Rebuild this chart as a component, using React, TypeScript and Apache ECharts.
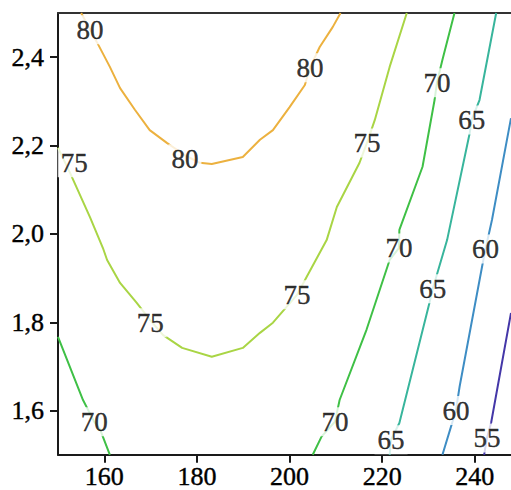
import React, { useEffect, useRef } from "react";
import * as echarts from "echarts";

// Contour polylines: [x, y]
const line80 = [
  [155.0, 2.5], [158.4, 2.434], [161.2, 2.378], [163.4, 2.33], [166.6, 2.281], [169.8, 2.235],
  [173.5, 2.206], [177.4, 2.178], [180.6, 2.161], [183.2, 2.158], [189.9, 2.174], [193.6, 2.213],
  [196.4, 2.235], [200.0, 2.287], [203.3, 2.337], [204.4, 2.376], [206.5, 2.423], [209.3, 2.468], [211.0, 2.5],
];
const line75 = [
  [150.0, 2.195], [152.6, 2.138], [156.9, 2.038], [159.7, 1.968], [160.6, 1.941], [163.4, 1.889],
  [167.0, 1.844], [169.9, 1.805], [172.7, 1.771], [176.8, 1.742], [183.2, 1.722], [189.9, 1.742],
  [193.6, 1.776], [196.4, 1.799], [201.6, 1.862], [203.7, 1.903], [208.0, 1.986], [210.2, 2.061],
  [215.1, 2.161], [216.7, 2.206], [218.4, 2.258], [221.6, 2.378], [225.3, 2.5],
];
const line70a = [
  [150.0, 1.767], [155.4, 1.624], [157.8, 1.575], [159.1, 1.557], [161.2, 1.5],
];
const line70b = [
  [205.0, 1.5], [206.9, 1.541], [209.8, 1.575], [210.8, 1.624], [216.6, 1.783], [221.6, 1.941],
  [223.6, 1.968], [223.7, 2.009], [228.7, 2.152], [231.3, 2.303], [231.8, 2.342], [233.0, 2.394], [235.6, 2.5],
];
const line65 = [
  [221.6, 1.5], [221.9, 1.534], [223.7, 1.572], [230.2, 1.844], [230.9, 1.876], [234.0, 1.986],
  [238.9, 2.229], [239.3, 2.258], [241.0, 2.303], [244.6, 2.5],
];
const line60 = [
  [233.0, 1.5], [235.9, 1.6], [236.7, 1.654], [241.7, 1.934], [242.3, 1.966], [243.7, 2.032], [247.8, 2.262],
];
const line55 = [
  [242.0, 1.5], [242.6, 1.538], [243.5, 1.572], [247.8, 1.821],
];

const contourLines = [line80, line75, line70a, line70b, line65, line60, line55];
const contourColors = ["#ecb13f", "#a9d545", "#3fc046", "#3fc046", "#38b59c", "#3e8dc4", "#4437a8"];

// Inline labels: [x, y, level]
const contourLabels = [
  [156.9, 2.462, 80], [177.4, 2.17, 80], [204.4, 2.376, 80],
  [153.5, 2.161, 75], [169.9, 1.799, 75], [201.6, 1.862, 75], [216.7, 2.206, 75],
  [157.8, 1.575, 70], [209.8, 1.575, 70], [223.6, 1.968, 70], [231.8, 2.342, 70],
  [221.9, 1.534, 65], [230.9, 1.876, 65], [239.3, 2.258, 65],
  [235.9, 1.6, 60], [242.3, 1.966, 60],
  [242.6, 1.538, 55],
];

const xTicks = [160, 180, 200, 220, 240];
const yTicks = [1.6, 1.8, 2.0, 2.2, 2.4];
const xRange = [150, 247.8];
const yRange = [1.5, 2.5];

const FONT = "Liberation Serif";

export default function App() {
  const ref = useRef<HTMLDivElement>(null);
  useEffect(() => {
    if (!ref.current) return;
    const chart = echarts.init(ref.current, null, { renderer: "svg" });
    const axisLine = { show: true, lineStyle: { color: "#1a1a1a", width: 2 } };
    const textBold = { textBorderColor: "#000", textBorderWidth: 0.4 };
    chart.setOption({
      animation: false,
      backgroundColor: "#ffffff",
      textStyle: { fontFamily: FONT },
      grid: { left: 58, right: 0, top: 13, bottom: 35 },
      xAxis: [
        {
          type: "value",
          min: xRange[0],
          max: xRange[1],
          axisLine,
          axisTick: { show: true, length: 8, customValues: xTicks, lineStyle: { color: "#1a1a1a", width: 2 } },
          axisLabel: {
            customValues: xTicks,
            color: "#000",
            fontFamily: FONT,
            fontSize: 26,
            margin: 9,
            ...textBold,
          },
          splitLine: { show: false },
        },
        {
          type: "value",
          position: "top",
          min: xRange[0],
          max: xRange[1],
          axisLine: { show: true, lineStyle: { color: "#333", width: 2 } },
          axisTick: { show: false },
          axisLabel: { show: false },
          splitLine: { show: false },
        },
      ],
      yAxis: {
        type: "value",
        min: yRange[0],
        max: yRange[1],
        axisLine,
        axisTick: { show: true, length: 8, customValues: yTicks, lineStyle: { color: "#1a1a1a", width: 2 } },
        axisLabel: {
          customValues: yTicks,
          color: "#000",
          fontFamily: FONT,
          fontSize: 26,
          margin: 14,
          formatter: (v: number) => v.toFixed(1).replace(".", ","),
          ...textBold,
        },
        splitLine: { show: false },
      },
      series: [
        ...contourLines.map((pts, i) => ({
          type: "line",
          data: pts,
          symbol: "none",
          smooth: false,
          z: 2,
          lineStyle: { color: contourColors[i], width: 2 },
          silent: true,
        })),
        {
          type: "scatter",
          data: contourLabels,
          symbolSize: 1,
          itemStyle: { color: "rgba(0,0,0,0)" },
          z: 5,
          label: {
            show: true,
            position: "inside",
            formatter: (p: any) => String(p.value[2]),
            color: "#000",
            fontFamily: FONT,
            fontSize: 27,
            backgroundColor: "#ffffff",
            padding: [2, 3, 0, 3],
            ...textBold,
          },
          silent: true,
        },
      ],
    });
    return () => chart.dispose();
  }, []);
  return (
    <div
      ref={ref}
      style={{ position: "fixed", left: 0, top: 0, width: 511, height: 490 }}
    />
  );
}
